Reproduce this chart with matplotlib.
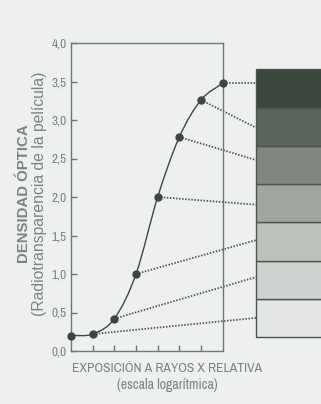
import matplotlib
matplotlib.use("Agg")
import matplotlib.pyplot as plt
from matplotlib.patches import Rectangle, PathPatch
from matplotlib.path import Path
import numpy as np

# ---- data ----
exposure = [0, 1, 2, 3, 4, 5, 6, 7]
density = [0.20, 0.22, 0.42, 1.00, 2.00, 2.78, 3.26, 3.48]
# wedge step targets for dotted lines (from point index 1..7)
link_from = [1, 2, 3, 4, 5, 6, 7]
link_to = [0.43, 0.96, 1.44, 1.90, 2.48, 2.90, 3.48]
wedge_edges = [0.18, 0.677, 1.174, 1.671, 2.168, 2.665, 3.162, 3.66]
wedge_colors = ["#e4e6e4", "#cfd3cf", "#bcc1bb", "#a0a7a0", "#7f877f", "#5b655b", "#3c473e"]
yticks = [0.0, 0.5, 1.0, 1.5, 2.0, 2.5, 3.0, 3.5, 4.0]
ytick_labels = ["0,0", "0,5", "1,0", "1,5", "2,0", "2,5", "3,0", "3,5", "4,0"]
xticks = [1, 2, 3, 4, 5, 6]

NARROW = ["Archivo Narrow", "DejaVu Sans"]
WIDE = ["Liberation Sans", "DejaVu Sans"]
plt.rcParams["font.family"] = NARROW

bg = "#eef0f0"
txt = "#7d8382"
axc = "#6f7674"
dark = "#3e4642"

fig = plt.figure(figsize=(3.21, 4.04), dpi=100, facecolor=bg)
ax = fig.add_axes([71/321, 1-351/404, (222.7-71)/321, (351-43)/404])
ax.set_facecolor(bg)
ax.set_xlim(0, 7)
ax.set_ylim(0, 4)
for s in ax.spines.values():
    s.set_color(axc)
    s.set_linewidth(1.0)
ax.set_yticks(yticks)
ax.set_yticklabels(ytick_labels)
ax.set_xticks(xticks)
ax.set_xticklabels([])
ax.tick_params(axis="both", direction="in", length=4, width=1.0, color=axc,
               labelcolor=txt, labelsize=9.5, pad=3)

# smooth curve (Catmull-Rom -> cubic Bezier)
x = np.array(exposure, float)
y = np.array(density, float)
n = len(x)
verts = [(x[0], y[0])]
codes = [Path.MOVETO]
def tangent(i):
    if i == 0:
        return (x[1]-x[0], y[1]-y[0])
    if i == n-1:
        return (x[-1]-x[-2], y[-1]-y[-2])
    return ((x[i+1]-x[i-1])/2, (y[i+1]-y[i-1])/2)
for i in range(n-1):
    t0 = tangent(i); t1 = tangent(i+1)
    c1 = (x[i] + t0[0]/3, y[i] + t0[1]/3)
    c2 = (x[i+1] - t1[0]/3, y[i+1] - t1[1]/3)
    verts += [c1, c2, (x[i+1], y[i+1])]
    codes += [Path.CURVE4]*3
ax.add_patch(PathPatch(Path(verts, codes), fill=False, edgecolor=dark, lw=1.0,
                       clip_on=False, zorder=3))

# wedge
wx0 = 7 + (256-222.7)/21.67
for k, c in enumerate(wedge_colors):
    ax.add_patch(Rectangle((wx0, wedge_edges[k]), 6, wedge_edges[k+1]-wedge_edges[k],
                           facecolor=c, edgecolor="#4d5550", lw=1.0, clip_on=False, zorder=2))

# dotted links
for i, t in zip(link_from, link_to):
    ax.plot([exposure[i], wx0], [density[i], t], color="#4a524e", lw=1.3,
            linestyle=(0, (0.8, 0.9)), clip_on=False, zorder=2)

ax.plot(exposure, density, "o", color=dark, ms=5, clip_on=False, zorder=4)

# labels
fig.text(24/321, 1-194/404, "DENSIDAD ÓPTICA", rotation=90, ha="center", va="center",
         color=txt, fontsize=10.8, fontweight="bold", family=WIDE)
fig.text(39.5/321, 1-193.5/404, "(Radiotransparencia de la película)", rotation=90,
         ha="center", va="center", color=txt, fontsize=11.3, family=WIDE)
fig.text(167/321, 1-369/404, "EXPOSICIÓN A RAYOS X RELATIVA", ha="center", va="center",
         color=txt, fontsize=9.8)
fig.text(167/321, 1-385/404, "(escala logarítmica)", ha="center", va="center",
         color=txt, fontsize=10)

fig.savefig("out.png", dpi=100, facecolor=bg)
